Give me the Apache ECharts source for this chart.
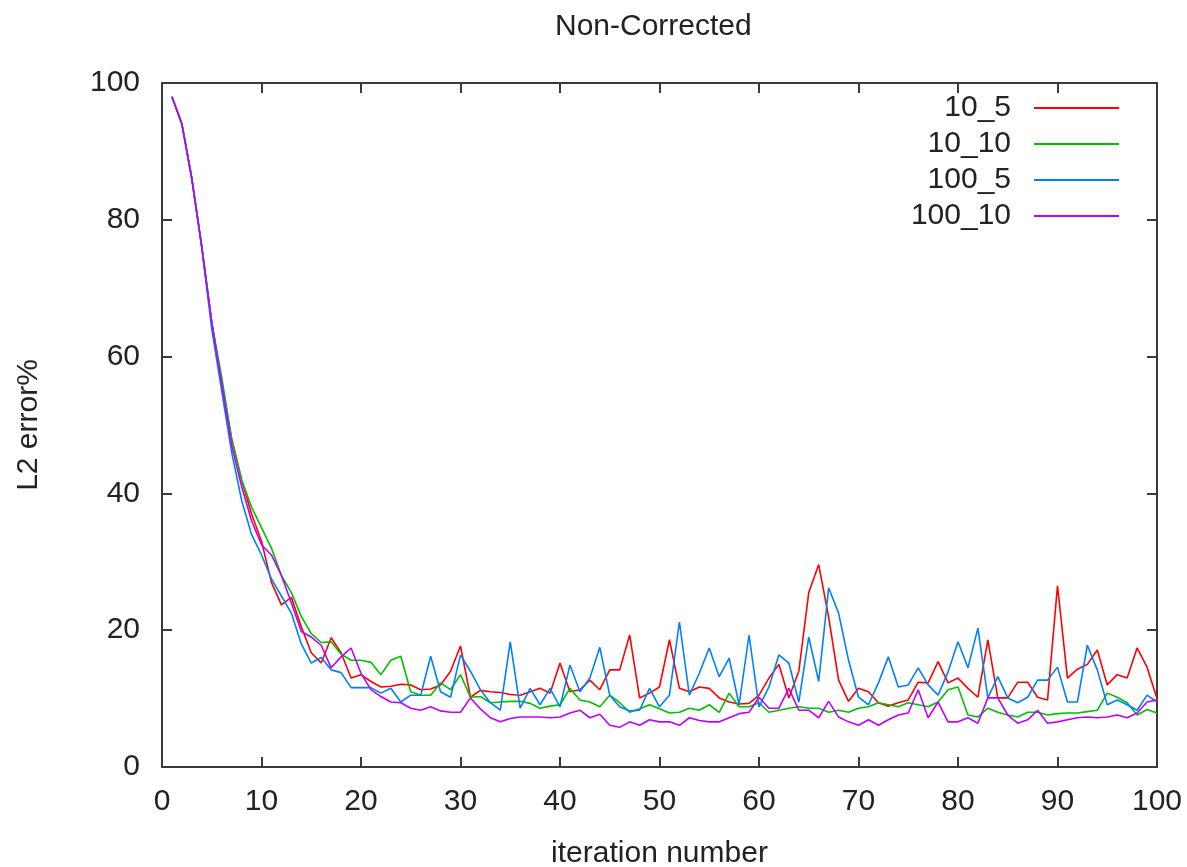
<!DOCTYPE html>
<html>
<head>
<meta charset="utf-8">
<script src="https://cdn.jsdelivr.net/npm/echarts@6/dist/echarts.min.js"></script>
<style>
html,body{margin:0;padding:0;background:#fff;}
#chart{width:1187px;height:867px;}
</style>
</head>
<body>
<div id="chart"></div>
<script>
const titleText = 'Non-Corrected';
const xAxisName = 'iteration number';
const yAxisName = 'L2 error%';
const seriesNames = ['10_5', '10_10', '100_5', '100_10'];
const xTicks = [0, 10, 20, 30, 40, 50, 60, 70, 80, 90, 100];
const yTicks = [0, 20, 40, 60, 80, 100];

const s10_5 = [98,94,86,76,65,56,48,42,37,33,27,23.7,24.8,20.5,16.7,15.2,18.9,16.7,13,13.5,
12.5,11.7,11.8,12.1,12,11.3,11.4,12,14,17.7,10.2,11.2,11,10.9,10.6,10.5,11,11.5,10.8,15.2,
11,11.3,12.7,11.3,14.2,14.2,19.3,10.1,10.8,11.7,18.6,11.5,11,11.7,11.5,10.1,9.5,9.2,9.3,10.5,
13,15,10.1,14,25.5,29.6,21.9,12.7,9.6,11.5,11,9.4,8.9,9.4,9.8,12.4,12.3,15.4,12.3,13,
11.5,10.2,18.6,10.1,10.1,12.4,12.4,10.2,9.8,26.5,13,14.3,15,17.1,12,13.5,13,17.4,14.6,10];

const s10_10 = [98,94,86,76,65,57,48,42,38,35,32,28,25.5,22,19.5,18.2,18.3,16.5,15.6,15.6,
15.3,13.5,15.6,16.2,11,10.5,10.5,12.3,11.3,13.5,10.2,10.3,9.4,9.5,9.6,9.6,9.3,8.6,8.9,9.1,
11.5,9.8,9.5,8.8,10.5,9.4,8,8.5,9.1,8.5,7.9,8,8.6,8.3,9.1,8,10.8,8.8,8.8,9.4,
8,8.3,8.6,8.8,8.6,8.6,8,8.3,8,8.6,8.8,9.4,9.1,8.8,9.4,9.1,8.8,9.5,11.3,11.7,
7.6,7.3,8.6,8,7.6,7.3,8,8,7.6,7.8,7.9,7.9,8.1,8.3,10.8,10.2,9.4,7.6,8.4,7.9];

const s100_5 = [98,94,86,76,64,55,46,39,34,31,27.5,25,22.5,18,15.2,16,14.2,13.8,11.6,11.6,
11.6,10.8,11.5,9.5,10.5,10.5,16.2,11,10.2,16.4,14,11.3,9.4,8.3,18.3,8.6,11.5,9.1,11.5,8.8,
14.9,11,13,17.5,10.5,8.8,8.2,8.3,11.5,8.8,10.5,21.2,10.5,13.7,17.4,13.2,15.9,9.1,19.3,8.8,
11.7,16.4,15.2,9.5,19,12.5,26.2,22.5,15.6,10.2,9.1,12.3,16.1,11.7,12,14.5,12,10.5,13.9,18.3,
14.5,20.3,10.1,13.2,10.1,9.4,10.2,12.7,12.7,14.6,9.5,9.5,17.8,14.2,9.1,9.8,9.1,8.3,10.5,9.5];

const s100_10 = [98,94,86,76,65,56,47,41,36,32.5,31,28,24,19.8,19,17.8,14.5,16.1,17.4,13.7,
11.3,10.3,9.5,9.4,8.6,8.3,8.8,8.2,8,8,10.1,8.5,7.2,6.6,7.1,7.3,7.3,7.3,7.2,7.3,
7.9,8.3,7.2,7.7,6.1,5.8,6.6,6.1,6.9,6.6,6.6,6.1,7.2,6.8,6.6,6.6,7.2,7.8,8,10.2,
8.6,8.6,11.5,8.3,8.3,7.2,9.6,7.3,6.6,6.1,6.9,6.1,6.9,7.6,7.9,11.3,7.2,9.5,6.6,6.6,
7.2,6.4,10.1,10.1,7.6,6.4,6.9,8.3,6.4,6.6,6.9,7.2,7.3,7.2,7.3,7.6,7.2,7.9,9.5,9.8];

const iterations = s10_5.map((_, k) => k + 1);
const allSeries = [s10_5, s10_10, s100_5, s100_10];
const colors = ['#ff0000', '#00c000', '#0080ff', '#c000ff'];

const FONT = 'Liberation Sans';
const TXT = '#222222';
const FRAME = '#3a3a3a';
const FS = 30;

const chart = echarts.init(document.getElementById('chart'));
const xMain = {
  type: 'value', min: 0, max: 100, interval: 10,
  name: xAxisName, nameLocation: 'middle', nameGap: 72,
  nameTextStyle: {fontFamily: FONT, fontSize: FS, color: TXT},
  axisLine: {show: true, lineStyle: {color: FRAME, width: 2}},
  axisTick: {show: true, inside: true, length: 10, lineStyle: {color: FRAME, width: 2}},
  axisLabel: {fontFamily: FONT, fontSize: FS, color: TXT, margin: 20,
    formatter: v => xTicks.includes(v) ? String(v) : ''},
  splitLine: {show: false}
};
const yMain = {
  type: 'value', min: 0, max: 100, interval: 20,
  name: yAxisName, nameLocation: 'middle', nameGap: 118,
  nameTextStyle: {fontFamily: FONT, fontSize: FS, color: TXT},
  axisLine: {show: true, lineStyle: {color: FRAME, width: 2}},
  axisTick: {show: true, inside: true, length: 10, lineStyle: {color: FRAME, width: 2}},
  axisLabel: {fontFamily: FONT, fontSize: FS, color: TXT, margin: 22,
    formatter: v => yTicks.includes(v) ? String(v) : ''},
  splitLine: {show: false}
};
const xTop = {
  type: 'value', min: 0, max: 100, interval: 10, position: 'top',
  axisLine: {show: true, onZero: false, lineStyle: {color: FRAME, width: 2}},
  axisTick: {show: true, inside: true, length: 10, lineStyle: {color: FRAME, width: 2}},
  axisLabel: {show: false}, splitLine: {show: false}
};
const yRight = {
  type: 'value', min: 0, max: 100, interval: 20, position: 'right',
  axisLine: {show: true, onZero: false, lineStyle: {color: FRAME, width: 2}},
  axisTick: {show: true, inside: true, length: 10, lineStyle: {color: FRAME, width: 2}},
  axisLabel: {show: false}, splitLine: {show: false}
};

chart.setOption({
  backgroundColor: '#ffffff',
  animation: false,
  title: {
    text: titleText, left: 555, top: 12, padding: 0,
    textStyle: {fontFamily: FONT, fontSize: FS, fontWeight: 'normal', color: TXT}
  },
  grid: {left: 162, right: 30, top: 83, bottom: 100, containLabel: false, outerBoundsMode: 'none'},
  legend: {
    orient: 'vertical', right: 63, top: 88, align: 'right',
    itemWidth: 85, itemHeight: 2, itemGap: 6,
    textStyle: {fontFamily: FONT, fontSize: FS, color: TXT, padding: [0, 18, 0, 0]},
    data: seriesNames.map(n => ({name: n, icon: 'rect'}))
  },
  xAxis: [xMain, xTop],
  yAxis: [yMain, yRight],
  series: seriesNames.map((n, k) => ({
    name: n, type: 'line', symbol: 'none', xAxisIndex: 0, yAxisIndex: 0,
    data: iterations.map((it, j) => [it, allSeries[k][j]]),
    lineStyle: {color: colors[k], width: 1.6},
    itemStyle: {color: colors[k]}
  }))
});
</script>
</body>
</html>
